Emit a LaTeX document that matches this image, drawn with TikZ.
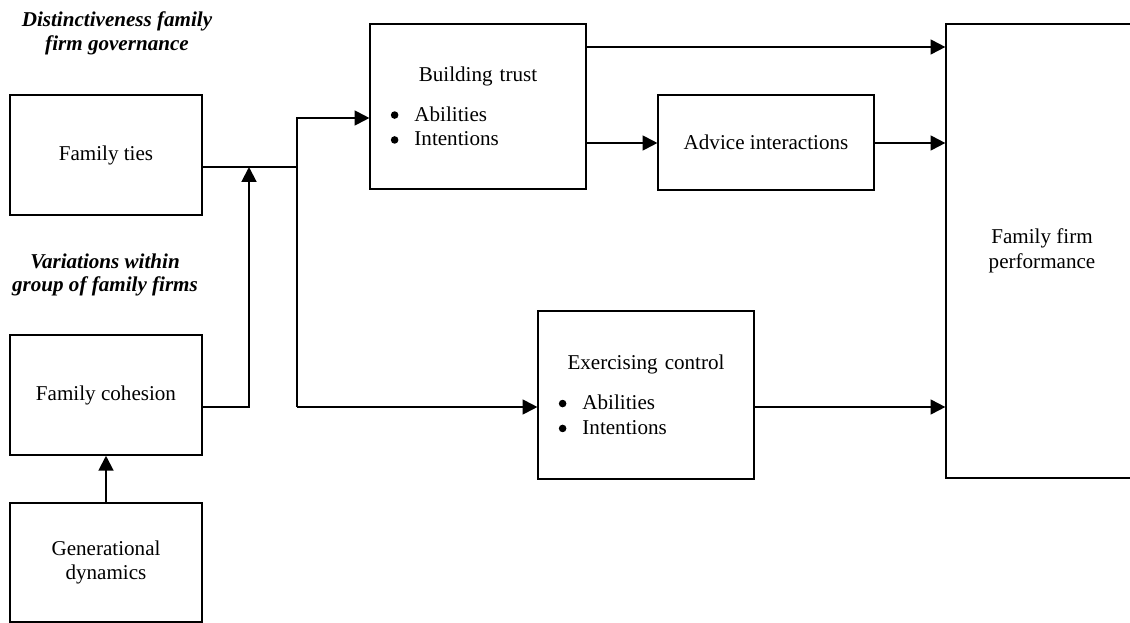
\documentclass[tikz,border=0pt]{standalone}
\usepackage{fontspec}
\setmainfont{Liberation Serif}
\usetikzlibrary{arrows.meta}

% bullet line inside a box
\newcommand{\bulletline}[1]{\hspace*{14.5pt}\makebox[16.8pt][l]{\tikz[baseline=-4.3pt]\fill (0,0) circle (2.7pt);}#1}

\begin{document}
\begin{tikzpicture}[x=0.025cm, y=-0.025cm,
        box/.style = {draw, line width=1.4pt, inner sep=0pt, align=center,
                      font=\fontsize{15}{17.7}\selectfont},
        listbox/.style = {box, text width=153pt, align=left},
        heading/.style = {align=center, inner sep=0pt,
                          font=\fontsize{15}{16.7}\selectfont\bfseries\itshape},
        arrow/.style = {line width=1.4pt, -{Triangle[length=10.5pt, width=10.5pt]}},
        link/.style = {line width=1.4pt}]

    \useasboundingbox (0,0) rectangle (1130,623);

    \node[box, minimum width=136pt, minimum height=85pt] (ties) at (106,155) {Family ties};
    \node[box, minimum width=136pt, minimum height=85pt] (cohesion) at (106,395) {Family cohesion};
    \node[box, minimum width=136pt, minimum height=85pt] (gen) at (106,562.5) {Generational\\dynamics};

    \node[listbox, minimum width=153pt, minimum height=118pt] (trust) at (478,106.5)
        {\centering Building trust\par\vspace{10.5pt}\raggedright
         \bulletline{Abilities}\\\bulletline{Intentions}};
    \node[box, minimum width=153pt, minimum height=67pt] (advice) at (766,142.5) {Advice interactions};
    \node[listbox, minimum width=153pt, minimum height=119pt] (control) at (646,395)
        {\centering Exercising control\par\vspace{10.5pt}\raggedright
         \bulletline{Abilities}\\\bulletline{Intentions}};

    \node[box, minimum width=136pt, minimum height=323pt] (perf) at (1042,251) {Family firm\\performance};

    \node[heading] (distinct) at (117,33.5) {Distinctiveness family\\firm governance};
    \node[heading] (variation) at (105,275) {Variations within\\group of family firms};

    % junction points of the connectors
    \coordinate (merge) at (249,167);
    \coordinate (bus mid) at (297,167);
    \coordinate (bus top) at (297,118);
    \coordinate (bus low) at (297,407);
    \coordinate (row top) at (0,47);
    \coordinate (row advice) at (0,143);

    \draw[link] (ties.east |- bus mid) -- (bus mid);
    \draw[arrow] (cohesion.east |- bus low) -| (merge);
    \draw[arrow] (gen.north) -- (cohesion.south);

    \draw[arrow] (bus low) -- (bus top) -- (trust.west |- bus top);
    \draw[arrow] (bus low) -- (control.west |- bus low);

    \draw[arrow] (trust.east |- row top) -- (perf.west |- row top);
    \draw[arrow] (trust.east |- row advice) -- (advice.west |- row advice);
    \draw[arrow] (advice.east |- row advice) -- (perf.west |- row advice);
    \draw[arrow] (control.east |- bus low) -- (perf.west |- bus low);

\end{tikzpicture}
\end{document}
